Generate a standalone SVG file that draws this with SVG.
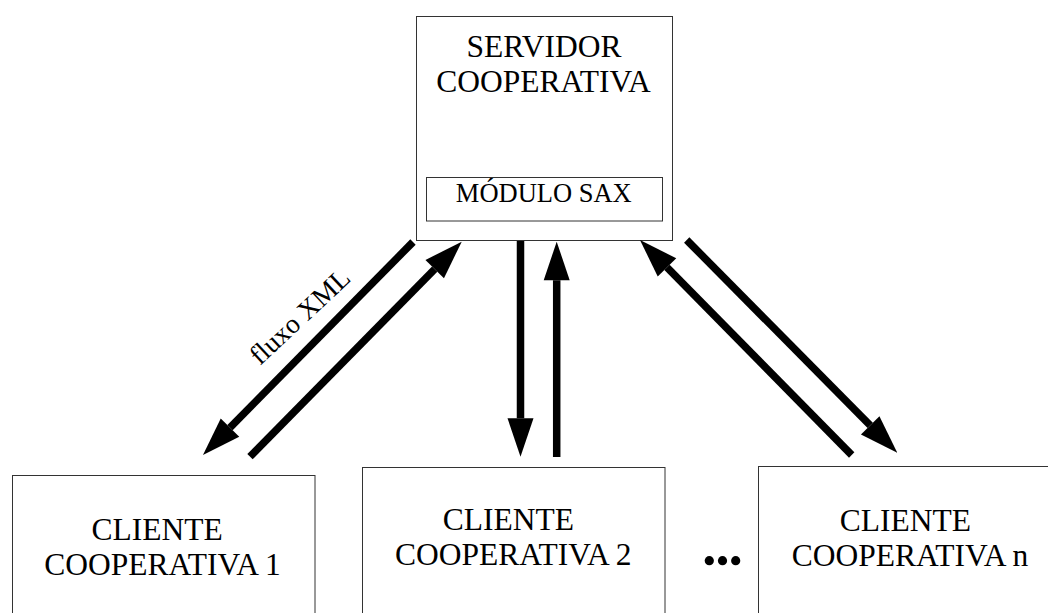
<svg xmlns="http://www.w3.org/2000/svg" width="1048" height="613" viewBox="0 0 1048 613">
  <style>
    .box { fill: #ffffff; stroke: #333333; stroke-width: 1; }
    .lbl { font-family: "Liberation Serif", "Times New Roman", serif; font-size: 31.5px; fill: #000000; text-anchor: middle; }
    .small { font-size: 26.5px; }
    .flow { stroke: #000000; stroke-width: 7.5; fill: none; stroke-linecap: butt; marker-end: url(#head); }
  </style>
  <defs>
    <marker id="head" markerUnits="userSpaceOnUse" markerWidth="40" markerHeight="28" refX="0" refY="13" orient="auto" overflow="visible">
      <path d="M0,0 L38.5,13 L0,26 Z" fill="#000000"/>
    </marker>
  </defs>
  <rect width="1048" height="613" fill="#ffffff"/>

  <g id="servidor">
    <rect class="box" x="416.5" y="16.5" width="256" height="224"/>
    <text class="lbl" x="544" y="57">SERVIDOR</text>
    <text class="lbl" x="543.5" y="92">COOPERATIVA</text>
    <g id="modulo-sax">
      <rect class="box" x="426.5" y="177.5" width="236" height="43.5"/>
      <text class="lbl small" x="543.8" y="202">MÓDULO SAX</text>
    </g>
  </g>

  <g id="cliente1">
    <rect class="box" x="12.5" y="475.5" width="302.5" height="150"/>
    <text class="lbl" x="157.2" y="540">CLIENTE</text>
    <text class="lbl" x="162.5" y="575">COOPERATIVA 1</text>
  </g>

  <g id="cliente2">
    <rect class="box" x="362.5" y="467.5" width="302.5" height="150"/>
    <text class="lbl" x="508.3" y="530">CLIENTE</text>
    <text class="lbl" x="513.3" y="565">COOPERATIVA 2</text>
  </g>

  <g id="reticencias">
    <circle cx="709.3" cy="560.7" r="4.6" fill="#000000"/>
    <circle cx="722.5" cy="560.7" r="4.6" fill="#000000"/>
    <circle cx="735.7" cy="560.7" r="4.6" fill="#000000"/>
  </g>

  <g id="clienten">
    <rect class="box" x="758.5" y="466.5" width="302.5" height="150"/>
    <text class="lbl" x="905.3" y="531">CLIENTE</text>
    <text class="lbl" x="910" y="566">COOPERATIVA n</text>
  </g>

  <g id="conectores">
    <line class="flow" x1="413" y1="242" x2="230" y2="427.6"/>
    <line class="flow" x1="250" y1="456.7" x2="434.7" y2="269.1"/>
    <line class="flow" x1="520.5" y1="241" x2="520.5" y2="418.2"/>
    <line class="flow" x1="556.7" y1="457" x2="556.7" y2="280.2"/>
    <line class="flow" x1="851.7" y1="455" x2="667" y2="267.4"/>
    <line class="flow" x1="686.7" y1="240" x2="870.2" y2="425.3"/>
    <text class="lbl" style="font-size:27.5px" transform="translate(306,323) rotate(-43)">fluxo XML</text>
  </g>
</svg>
